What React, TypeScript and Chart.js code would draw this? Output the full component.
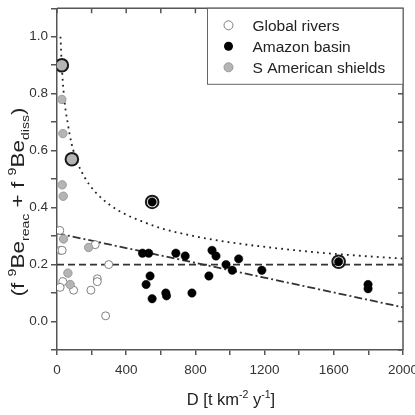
import { useEffect, useRef } from "react";
import { Chart, registerables } from "chart.js";

Chart.register(...registerables);

// Denudation rate D [t km^-2 y^-1] and summed 9Be fraction for each group
const globalRiversD = [16, 20, 30, 221, 299, 34, 18, 96, 233, 233, 196, 281];
const globalRiversF = [0.32, 0.25, 0.25, 0.27, 0.2, 0.14, 0.12, 0.11, 0.15, 0.14, 0.11, 0.02];

const amazonD = [550, 494, 530, 687, 741, 896, 919, 977, 1013, 1050, 1184, 538, 515, 878, 550, 629, 633, 780, 1628, 1798, 1798];
const amazonF = [0.42, 0.24, 0.24, 0.24, 0.23, 0.25, 0.23, 0.2, 0.18, 0.22, 0.18, 0.16, 0.13, 0.16, 0.08, 0.1, 0.09, 0.1, 0.21, 0.13, 0.115];

const shieldsD = [28, 28, 34, 86, 30, 36, 38, 183, 63, 76];
const shieldsF = [0.9, 0.78, 0.66, 0.57, 0.48, 0.44, 0.29, 0.26, 0.17, 0.13];

// Mean values, outlined with a ring
const meanD = [28, 86, 550, 1628];
const meanF = [0.9, 0.57, 0.42, 0.21];
const meanGroup = ["shields", "shields", "amazon", "amazon"];

// Power-law trend
const powerFitD = [20, 30, 45, 61, 84, 120, 160, 220, 304, 400, 478, 600, 800, 1000, 1232, 1500, 1750, 2000];
const powerFitF = [1.0, 0.875, 0.766, 0.7, 0.625, 0.556, 0.506, 0.456, 0.41, 0.375, 0.355, 0.328, 0.299, 0.278, 0.26, 0.243, 0.231, 0.221];

// Constant level
const constantD = [0, 2000];
const constantF = [0.2, 0.2];

// Linear trend
const linearD = [0, 2000];
const linearF = [0.31, 0.05];

const legendLabels = ["Global rivers", "Amazon basin", "S American shields"];

const xTicksStep = 200;
const xLabelStep = 400;
const yTicksStep = 0.1;

const FONT = "'Liberation Sans', Arial, Helvetica, sans-serif";
const AXIS = "#555";
const TEXT = "#333";
const GREY_FILL = "#b5b5b5";
const GREY_EDGE = "#9a9a9a";
const OPEN_EDGE = "#808080";

const pts = (xs: number[], ys: number[]) => xs.map((x, i) => ({ x, y: ys[i] }));

type Seg = { t: string; size: number; shift: number };

function drawRich(ctx: CanvasRenderingContext2D, segs: Seg[], cx: number, cy: number) {
  let total = 0;
  for (const s of segs) {
    ctx.font = `${s.size}px ${FONT}`;
    total += ctx.measureText(s.t).width;
  }
  let x = cx - total / 2;
  ctx.textAlign = "left";
  ctx.textBaseline = "alphabetic";
  for (const s of segs) {
    ctx.font = `${s.size}px ${FONT}`;
    ctx.fillText(s.t, x, cy + s.shift);
    x += ctx.measureText(s.t).width;
  }
}

function marker(ctx: CanvasRenderingContext2D, x: number, y: number, kind: number) {
  ctx.beginPath();
  ctx.arc(x, y, 4.5, 0, Math.PI * 2);
  if (kind === 0) {
    ctx.fillStyle = "#fff";
    ctx.fill();
    ctx.strokeStyle = OPEN_EDGE;
    ctx.lineWidth = 1;
    ctx.stroke();
  } else if (kind === 1) {
    ctx.fillStyle = "#000";
    ctx.fill();
  } else {
    ctx.fillStyle = GREY_FILL;
    ctx.fill();
    ctx.strokeStyle = GREY_EDGE;
    ctx.lineWidth = 1;
    ctx.stroke();
  }
}

const decorPlugin = {
  id: "decor",
  afterDraw(chart: any) {
    const { ctx, chartArea: a, scales } = chart;
    const x = scales.x;
    const y = scales.y;
    ctx.save();

    // top and right frame with inward ticks
    ctx.strokeStyle = AXIS;
    ctx.lineWidth = 1.5;
    ctx.beginPath();
    ctx.moveTo(a.left, a.top);
    ctx.lineTo(a.right, a.top);
    ctx.lineTo(a.right, a.bottom);
    x.ticks.forEach((t: any) => {
      const px = x.getPixelForValue(t.value);
      ctx.moveTo(px, a.top);
      ctx.lineTo(px, a.top + 5);
    });
    y.ticks.forEach((t: any) => {
      const py = y.getPixelForValue(t.value);
      ctx.moveTo(a.right, py);
      ctx.lineTo(a.right - 5, py);
    });
    ctx.stroke();

    // legend box
    const lx = 207.5;
    const ly = a.top;
    const lw = a.right - lx;
    const lh = 76;
    ctx.fillStyle = "#fff";
    ctx.fillRect(lx, ly, lw, lh);
    ctx.strokeStyle = "#666";
    ctx.lineWidth = 1;
    ctx.strokeRect(lx, ly, lw, lh);
    legendLabels.forEach((lab, i) => {
      const ry = ly + 17 + i * 21;
      marker(ctx, lx + 21, ry, i);
      ctx.fillStyle = "#222";
      ctx.font = `15.5px ${FONT}`;
      ctx.textAlign = "left";
      ctx.textBaseline = "middle";
      ctx.fillText(lab, lx + 45, ry + 1);
    });

    // axis titles
    ctx.fillStyle = "#222";
    drawRich(
      ctx,
      [
        { t: "D [t km", size: 16.5, shift: 0 },
        { t: "-2", size: 10.5, shift: -7 },
        { t: " y", size: 16.5, shift: 0 },
        { t: "-1", size: 10.5, shift: -7 },
        { t: "]", size: 16.5, shift: 0 },
      ],
      231,
      405
    );

    ctx.save();
    ctx.translate(24, 202);
    ctx.rotate(-Math.PI / 2);
    ctx.scale(1.22, 1);
    drawRich(
      ctx,
      [
        { t: "(f ", size: 18.5, shift: 0 },
        { t: "9", size: 11.5, shift: -8 },
        { t: "Be", size: 18.5, shift: 0 },
        { t: "reac", size: 11.5, shift: 5 },
        { t: " + f ", size: 18.5, shift: 0 },
        { t: "9", size: 11.5, shift: -8 },
        { t: "Be", size: 18.5, shift: 0 },
        { t: "diss", size: 11.5, shift: 5 },
        { t: ")", size: 18.5, shift: 0 },
      ],
      0,
      0
    );
    ctx.restore();

    ctx.restore();
  },
};

export default function App() {
  const ref = useRef<HTMLCanvasElement | null>(null);

  useEffect(() => {
    document.body.style.margin = "0";
    const canvas = ref.current;
    if (!canvas) return;

    const tickFont = { family: FONT, size: 13.5 };

    const chart = new Chart(canvas, {
      type: "scatter",
      data: {
        datasets: [
          {
            label: "mean",
            data: pts(meanD, meanF),
            pointRadius: 6.3,
            pointBorderWidth: 2,
            pointBorderColor: "#1a1a1a",
            pointBackgroundColor: meanGroup.map((g) => (g === "shields" ? GREY_FILL : "rgba(0,0,0,0)")),
            order: 0,
          },
          {
            label: legendLabels[0],
            data: pts(globalRiversD, globalRiversF),
            pointRadius: 4,
            pointBorderWidth: 1,
            pointBorderColor: OPEN_EDGE,
            pointBackgroundColor: "#fff",
            order: 3,
          },
          {
            label: legendLabels[1],
            data: pts(amazonD, amazonF),
            pointRadius: 4.2,
            pointBorderWidth: 0.5,
            pointBorderColor: "#000",
            pointBackgroundColor: "#000",
            order: 1,
          },
          {
            label: legendLabels[2],
            data: pts(shieldsD, shieldsF),
            pointRadius: 4.2,
            pointBorderWidth: 1,
            pointBorderColor: GREY_EDGE,
            pointBackgroundColor: GREY_FILL,
            order: 2,
          },
          {
            type: "line",
            label: "power",
            data: pts(powerFitD, powerFitF),
            showLine: true,
            pointRadius: 0,
            borderColor: "#222",
            borderWidth: 1.8,
            borderDash: [1.8, 4.2],
            cubicInterpolationMode: "monotone",
            fill: false,
            order: 10,
          } as any,
          {
            type: "line",
            label: "constant",
            data: pts(constantD, constantF),
            showLine: true,
            pointRadius: 0,
            borderColor: "#333",
            borderWidth: 1.8,
            borderDash: [7, 4],
            fill: false,
            order: 11,
          } as any,
          {
            type: "line",
            label: "linear",
            data: pts(linearD, linearF),
            showLine: true,
            pointRadius: 0,
            borderColor: "#333",
            borderWidth: 1.8,
            borderDash: [8, 3, 2, 3],
            fill: false,
            order: 12,
          } as any,
        ],
      },
      options: {
        animation: false,
        responsive: true,
        maintainAspectRatio: false,
        layout: { padding: { top: 5, right: 12, left: 0, bottom: 0 } },
        plugins: { legend: { display: false }, tooltip: { enabled: false } },
        scales: {
          x: {
            type: "linear",
            min: 0,
            max: 2000,
            ticks: {
              stepSize: xTicksStep,
              autoSkip: false,
              maxRotation: 0,
              padding: 7,
              color: TEXT,
              font: tickFont,
              callback: (v: any) => (Number(v) % xLabelStep === 0 ? String(v) : ""),
            },
            grid: { drawOnChartArea: false, drawTicks: true, tickLength: 5, color: AXIS, lineWidth: 1.5 },
            border: { color: AXIS, width: 1.5 },
            afterFit: (s: any) => {
              s.height = 65;
              s.paddingRight = 0;
              s.paddingLeft = 0;
            },
          },
          y: {
            type: "linear",
            min: -0.1,
            max: 1.1,
            ticks: {
              stepSize: yTicksStep,
              autoSkip: false,
              padding: 3,
              color: TEXT,
              font: tickFont,
              callback: (v: any) => {
                const k = Math.round(Number(v) * 10);
                return k % 2 === 0 ? (k / 10).toFixed(1) : "";
              },
            },
            grid: { drawOnChartArea: false, drawTicks: true, tickLength: 6, color: AXIS, lineWidth: 1.5 },
            border: { color: AXIS, width: 1.5 },
            afterFit: (s: any) => {
              s.width = 57;
              s.paddingTop = 0;
              s.paddingBottom = 0;
            },
          },
        },
      },
      plugins: [decorPlugin],
    } as any);

    return () => chart.destroy();
  }, []);

  return (
    <div style={{ width: 415, height: 415, position: "relative", background: "#fff" }}>
      <canvas ref={ref} />
    </div>
  );
}
